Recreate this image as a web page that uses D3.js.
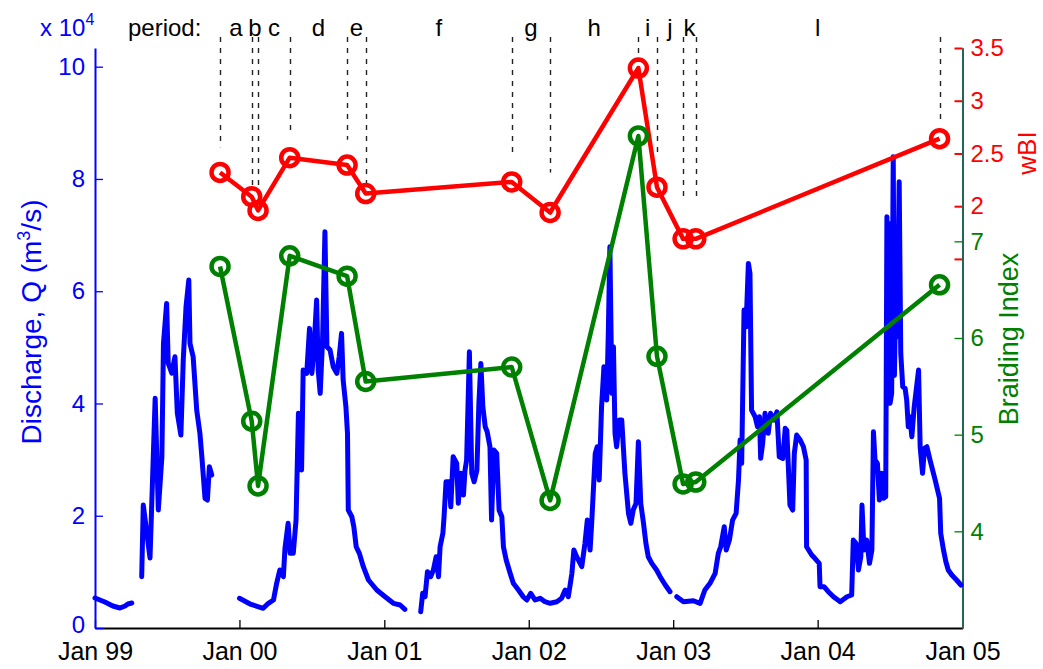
<!DOCTYPE html>
<html>
<head>
<meta charset="utf-8">
<script src="https://cdn.jsdelivr.net/npm/d3@7"></script>
<style>
  html, body { margin: 0; padding: 0; background: #fff; }
  svg { display: block; font-family: "Liberation Sans", Arial, Helvetica, sans-serif; }
</style>
</head>
<body>
<svg id="chart" width="1043" height="669"></svg>
<script>
// Daily discharge record, [day counted from 1 Jan 1999, Q in m3/s]; null marks a gap in the record
const dischargeRecord = [
  [0,5340],[25,4630],[45,3920],[63,3560],[76,3920],[83,4270],[93,4450],[100,null],
  [118,9140],[122,21910],[139,12470],[152,40910],[160,21020],[169,30510],[173,50710],[181,57830],
  [185,47200],[194,45420],[202,48320],[208,38290],[217,34370],[223,47730],[230,57220],[237,61980],
  [240,50710],[248,48320],[257,38830],[265,34730],[270,30510],[278,23100],[284,22800],[289,28730],
  [295,27250],[300,null],
  [365,5290],[392,4270],[425,3510],[438,4400],[451,4990],[459,7960],[467,10330],[476,9140],
  [480,14190],[488,18650],[493,13300],[501,13300],[508,19230],[514,38240],[522,28140],[526,45950],
  [535,45360],[542,53380],[548,45360],[553,49510],[560,58420],[564,45950],[569,41800],[575,51290],
  [581,70580],[586,50100],[594,49510],[602,46540],[611,45360],[617,48320],[623,52490],[627,44170],
  [634,39410],[638,34680],[640,21020],[649,19820],[654,18040],[660,14480],[668,13300],[678,10920],
  [691,8550],[712,6770],[733,5570],[754,4400],[771,4100],[783,3330],[790,null],
  [823,2900],[828,6180],[834,5570],[840,10030],[848,9140],[855,10330],[862,12700],[868,9140],
  [872,14480],[879,16870],[882,19820],[887,26060],[895,26060],[899,21600],[905,30510],[914,29330],
  [918,22210],[924,27550],[931,23690],[935,28140],[939,29920],[946,49210],[952,27550],[958,26060],
  [965,28140],[970,40020],[975,47140],[980,39410],[986,35850],[991,34960],[998,32290],[1002,19230],
  [1008,31700],[1015,31110],[1021,21020],[1028,19820],[1032,14480],[1039,12110],[1049,9740],[1057,7960],
  [1070,6770],[1082,5570],[1091,4990],[1101,6180],[1112,4990],[1125,5290],[1137,4680],[1150,4400],
  [1167,4680],[1179,5290],[1188,6770],[1196,5570],[1205,9740],[1210,13890],[1217,12700],[1230,10920],
  [1238,15090],[1244,19230],[1251,13890],[1255,18650],[1264,31110],[1269,32290],[1274,26360],[1280,39410],
  [1286,46540],[1293,40610],[1297,52490],[1301,67910],[1306,41800],[1310,50100],[1314,34680],[1318,32290],
  [1325,37040],[1331,37040],[1339,27550],[1348,20430],[1354,18650],[1360,21020],[1367,22210],[1373,33180],
  [1379,22210],[1386,18650],[1392,15090],[1398,12700],[1407,11520],[1419,10330],[1428,9140],[1441,7660],
  [1453,6470],[1460,null],
  [1470,5570],[1487,4680],[1512,4860],[1529,4400],[1541,6770],[1554,7960],[1567,9740],[1575,13300],
  [1581,14480],[1590,18040],[1595,13890],[1603,15670],[1611,19230],[1620,20430],[1626,26360],[1630,33480],
  [1634,29330],[1640,56640],[1645,53660],[1651,64950],[1655,63170],[1659,38830],[1668,37630],[1674,35850],
  [1679,37630],[1682,30220],[1687,32900],[1693,38240],[1701,34680],[1707,38240],[1716,37040],[1723,38520],
  [1729,30510],[1738,30220],[1744,35570],[1748,35260],[1752,28730],[1756,21910],[1763,21020],[1767,31110],
  [1773,34370],[1782,33480],[1790,32290],[1797,29920],[1798,14480],[1811,13000],[1819,12410],[1830,11520],
  [1832,7360],[1842,7360],[1853,6470],[1866,5570],[1883,4680],[1895,5290],[1900,5570],[1912,5880],
  [1916,15670],[1923,15090],[1929,10330],[1935,12700],[1938,21910],[1943,13890],[1950,15670],[1957,11520],
  [1963,13890],[1967,34960],[1971,29920],[1977,29330],[1982,22800],[1988,27550],[1992,23100],[1998,23380],
  [2001,73250],[2004,45000],[2007,72080],[2009,40020],[2013,41800],[2017,83940],[2020,45000],[2022,53660],[2027,51880],[2032,79490],
  [2036,48920],[2041,42980],[2047,42690],[2051,40610],[2055,35850],[2059,37630],[2064,34070],[2070,39410],
  [2076,42980],[2081,45950],[2085,32290],[2091,27550],[2096,32000],[2102,32290],[2110,29920],[2123,26360],
  [2134,23100],[2137,16870],[2144,13890],[2150,11810],[2156,10330],[2165,9440],[2177,8550],[2188,7660]
];

// Survey dates bounding the periods, with the planform indices measured on each
const surveyDates = ["1999-11-13","2000-02-01","2000-02-17","2000-05-07","2000-09-29","2000-11-15",
  "2001-11-19","2002-02-24","2002-10-05","2002-11-21","2003-01-26","2003-02-27","2004-11-04"];
const wbiValues = [2.32, 2.09, 1.96, 2.46, 2.39, 2.12, 2.23, 1.94, 3.31, 2.18, 1.69, 1.69, 2.64];
const braidingValues = [6.74, 5.14, 4.47, 6.85, 6.64, 5.55, 5.70, 4.32, 8.09, 5.81, 4.49, 4.51, 6.55];
// lower end of each period divider, in wBI units
const dividerEnds = [2.56, 2.20, 2.06, 2.67, 2.63, 2.20, 2.46, 2.32, 3.37, 2.48, 2.06, 2.06, 2.80];
const periodLabels = ["a","b","c","d","e","f","g","h","i","j","k","l"];

// Axis limits and ticks
const timeLimits = ["1999-01-01", "2005-01-01"];
const yearTicks = ["1999-01-01","2000-01-01","2001-01-01","2002-01-01","2003-01-01","2004-01-01","2005-01-01"];
const dischargeLimits = [0, 103330];
const dischargeTicks = [0, 20000, 40000, 60000, 80000, 100000];
const wbiLimits = [-2, 3.5];
const wbiTicks = [1.5, 2, 2.5, 3, 3.5];
const wbiTickLabels = ["", "2", "2.5", "3", "3.5"];
const braidingLimits = [3, 9];
const braidingTicks = [4, 5, 6, 7];

const BLUE = "#0000ff", RED = "#ff0000", GREEN = "#008000";
const svg = d3.select("#chart");
const plot = { left: 95, right: 962.5, top: 48, bottom: 628 };

const parse = d3.utcParse("%Y-%m-%d");
const day0 = parse(timeLimits[0]);

const x = d3.scaleUtc().domain(timeLimits.map(parse)).range([plot.left, plot.right]);
const yQ = d3.scaleLinear().domain(dischargeLimits).range([plot.bottom, plot.top]);
const yW = d3.scaleLinear().domain(wbiLimits).range([plot.bottom, plot.top]);
const yB = d3.scaleLinear().domain(braidingLimits).range([plot.bottom, plot.top]);

// ---- axes ----
const xAxis = d3.axisBottom(x)
  .tickValues(yearTicks.map(parse))
  .tickFormat(d3.utcFormat("%b %y"))
  .tickSizeInner(-8).tickSizeOuter(0).tickPadding(14);
const gx = svg.append("g").attr("transform", `translate(0,${plot.bottom})`).call(xAxis);
gx.select(".domain").attr("stroke", "#000").attr("stroke-width", 2);
gx.selectAll(".tick line").attr("stroke", "#000").attr("stroke-width", 1.3);
gx.selectAll(".tick text").attr("fill", "#000").attr("font-size", 25).attr("font-family", null);

const qAxis = d3.axisLeft(yQ)
  .tickValues(dischargeTicks)
  .tickFormat(d => d / 1e4)
  .tickSizeInner(-8).tickSizeOuter(0).tickPadding(10);
const gq = svg.append("g").attr("transform", `translate(${plot.left},0)`).call(qAxis);
gq.select(".domain").attr("stroke", BLUE).attr("stroke-width", 2);
gq.selectAll(".tick line").attr("stroke", BLUE).attr("stroke-width", 1.3);
gq.selectAll(".tick text").attr("fill", BLUE).attr("font-size", 24).attr("font-family", null);
// the baseline label sits just above the date labels
gq.selectAll(".tick text").filter(d => d === 0).attr("dy", "0.2em");

const wAxis = d3.axisRight(yW)
  .tickValues(wbiTicks)
  .tickFormat((d, i) => wbiTickLabels[i])
  .tickSizeInner(-8).tickSizeOuter(0).tickPadding(8);
const gw = svg.append("g").attr("transform", `translate(${plot.right},0)`).call(wAxis);
gw.select(".domain").attr("stroke", RED).attr("stroke-width", 2);
gw.selectAll(".tick line").attr("stroke", RED).attr("stroke-width", 2);
gw.selectAll(".tick text").attr("fill", RED).attr("font-size", 24).attr("font-family", null);

const bAxis = d3.axisRight(yB)
  .tickValues(braidingTicks)
  .tickFormat(d3.format("d"))
  .tickSizeInner(-8).tickSizeOuter(0).tickPadding(8);
const gb = svg.append("g").attr("transform", `translate(${plot.right},0)`).call(bAxis);
gb.select(".domain").attr("stroke", "#22665a").attr("stroke-width", 2);
gb.selectAll(".tick line").attr("stroke", GREEN).attr("stroke-width", 1.3);
gb.selectAll(".tick text").attr("fill", GREEN).attr("font-size", 24).attr("font-family", null);

// ---- discharge hydrograph ----
const qLine = d3.line()
  .defined(d => d[1] !== null)
  .x(d => x(d3.utcDay.offset(day0, d[0])))
  .y(d => yQ(d[1]));
svg.append("path")
  .datum(dischargeRecord)
  .attr("d", qLine)
  .attr("fill", "none")
  .attr("stroke", BLUE)
  .attr("stroke-width", 5)
  .attr("stroke-linejoin", "round")
  .attr("stroke-linecap", "round");

// ---- period dividers and labels ----
const surveys = surveyDates.map((s, i) => ({
  date: parse(s), wbi: wbiValues[i], braid: braidingValues[i], end: dividerEnds[i]
}));
svg.append("g").selectAll("line")
  .data(surveys)
  .join("line")
  .attr("x1", d => Math.round(x(d.date)) + 0.5).attr("x2", d => Math.round(x(d.date)) + 0.5)
  .attr("y1", plot.top - 11)
  .attr("y2", d => yW(d.end))
  .attr("stroke", "#222")
  .attr("stroke-width", 1.4)
  .attr("stroke-dasharray", "5,6");

svg.append("g").selectAll("text")
  .data(periodLabels)
  .join("text")
  .attr("x", (d, i) => (x(surveys[i].date) + x(surveys[i + 1].date)) / 2)
  .attr("y", 36)
  .attr("text-anchor", "middle")
  .attr("font-size", 24)
  .attr("fill", "#000")
  .text(d => d);

svg.append("text")
  .attr("x", 128).attr("y", 36)
  .attr("font-size", 24).attr("fill", "#000")
  .text("period:");

// ---- wBI series ----
const wLine = d3.line().x(d => x(d.date)).y(d => yW(d.wbi));
svg.append("path").datum(surveys).attr("d", wLine)
  .attr("fill", "none").attr("stroke", RED).attr("stroke-width", 4.5).attr("stroke-linejoin", "round");
svg.append("g").selectAll("circle").data(surveys).join("circle")
  .attr("cx", d => x(d.date)).attr("cy", d => yW(d.wbi)).attr("r", 8.5)
  .attr("fill", "none").attr("stroke", RED).attr("stroke-width", 4.5);

// ---- braiding index series ----
const bLine = d3.line().x(d => x(d.date)).y(d => yB(d.braid));
svg.append("path").datum(surveys).attr("d", bLine)
  .attr("fill", "none").attr("stroke", GREEN).attr("stroke-width", 4.5).attr("stroke-linejoin", "round");
svg.append("g").selectAll("circle").data(surveys).join("circle")
  .attr("cx", d => x(d.date)).attr("cy", d => yB(d.braid)).attr("r", 8.5)
  .attr("fill", "none").attr("stroke", GREEN).attr("stroke-width", 4.5);

// ---- axis titles ----
const exp = svg.append("text").attr("x", 40).attr("y", 36).attr("font-size", 24).attr("fill", BLUE);
exp.append("tspan").text("x 10");
exp.append("tspan").attr("dy", -11).attr("font-size", 16).text("4");

const qTitle = svg.append("text")
  .attr("transform", `translate(41,322) rotate(-90)`)
  .attr("text-anchor", "middle").attr("font-size", 28).attr("fill", BLUE);
qTitle.append("tspan").text("Discharge, Q (m");
qTitle.append("tspan").attr("dy", -11).attr("font-size", 18).text("3");
qTitle.append("tspan").attr("dy", 11).text("/s)");

svg.append("text")
  .attr("transform", `translate(1036,153) rotate(-90)`)
  .attr("text-anchor", "middle").attr("font-size", 26).attr("fill", RED)
  .text("wBI");

svg.append("text")
  .attr("transform", `translate(1018,339) rotate(-90)`)
  .attr("text-anchor", "middle").attr("font-size", 27).attr("fill", GREEN)
  .text("Braiding Index");
</script>
</body>
</html>
